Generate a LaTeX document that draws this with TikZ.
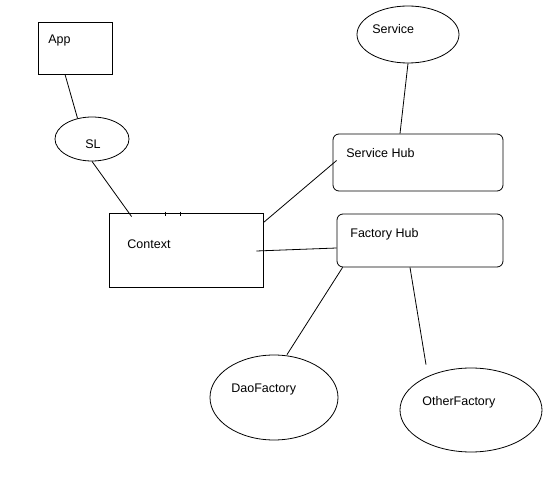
\documentclass[tikz,border=0pt]{standalone}
\usepackage{fontspec}
\setmainfont{Liberation Sans}
\usetikzlibrary{positioning,shapes.geometric}
\tikzstyle{box} = [draw, rectangle, inner sep=0pt]
\tikzstyle{hub} = [draw, rectangle, rounded corners=6pt, inner sep=0pt]
\tikzstyle{oval} = [draw, ellipse, inner sep=0pt]
\tikzstyle{lbl} = [anchor=base west, inner sep=0pt, font=\fontsize{12.5}{15}\selectfont]

\begin{document}
\begin{tikzpicture}[x=1pt,y=-1pt,line width=0.8pt]
		\fill[white] (0,0) rectangle (558,481);
		\useasboundingbox (0,0) rectangle (558,481);

		% shapes
		\node (app) [box, minimum width=74pt, minimum height=52pt] at (75,48) {};
		\node (sl) [oval, minimum width=74pt, minimum height=44pt] at (92,139) {};
		\node (ctx) [box, minimum width=154pt, minimum height=74pt] at (186,250) {};
		\node (svc) [oval, minimum width=102pt, minimum height=57pt] at (408,34.5) {};
		\node (shub) [hub, minimum width=170pt, minimum height=57pt] at (418,162.5) {};
		\node (fhub) [hub, minimum width=166pt, minimum height=53pt] at (420,240.5) {};
		\node (dao) [oval, minimum width=128pt, minimum height=85pt] at (274,397.5) {};
		\node (other) [oval, minimum width=142pt, minimum height=84pt] at (471,410) {};

		% texts
		\node (appt) [lbl] at (48,44) {App};
		\node (slt) [lbl] at (85,149) {SL};
		\node (ctxt) [lbl] at (127,249) {Context};
		\node (svct) [lbl] at (372,34) {Service};
		\node (shubt) [lbl] at (346,158) {Service Hub};
		\node (fhubt) [lbl] at (350,238) {Factory Hub};
		\node (daot) [lbl] at (231,393) {DaoFactory};
		\node (othert) [lbl] at (422,406) {OtherFactory};

		% links
		\draw ([xshift=-10pt]app.south) -- (sl.125);
		\draw (sl.south) -- ([xshift=23pt,yshift=-4pt]ctx.north west);
		\draw ([yshift=-10pt]ctx.north east) -- ([xshift=4pt,yshift=2pt]shub.west);
		\draw ([xshift=-7pt,yshift=-1pt]ctx.east) -- ([yshift=-7.5pt]fhub.west);
		\draw (svc.south) -- ([xshift=-18pt]shub.north);
		\draw ([xshift=6pt]fhub.south west) -- ([xshift=13pt]dao.north);
		\draw ([xshift=-10pt]fhub.south) -- ([xshift=-45pt,yshift=3pt]other.north);
		\foreach \dx in {-21,-6}
			\draw ([xshift=\dx pt,yshift=1pt]ctx.north) -- ++(0,4);
	\end{tikzpicture}
\end{document}
